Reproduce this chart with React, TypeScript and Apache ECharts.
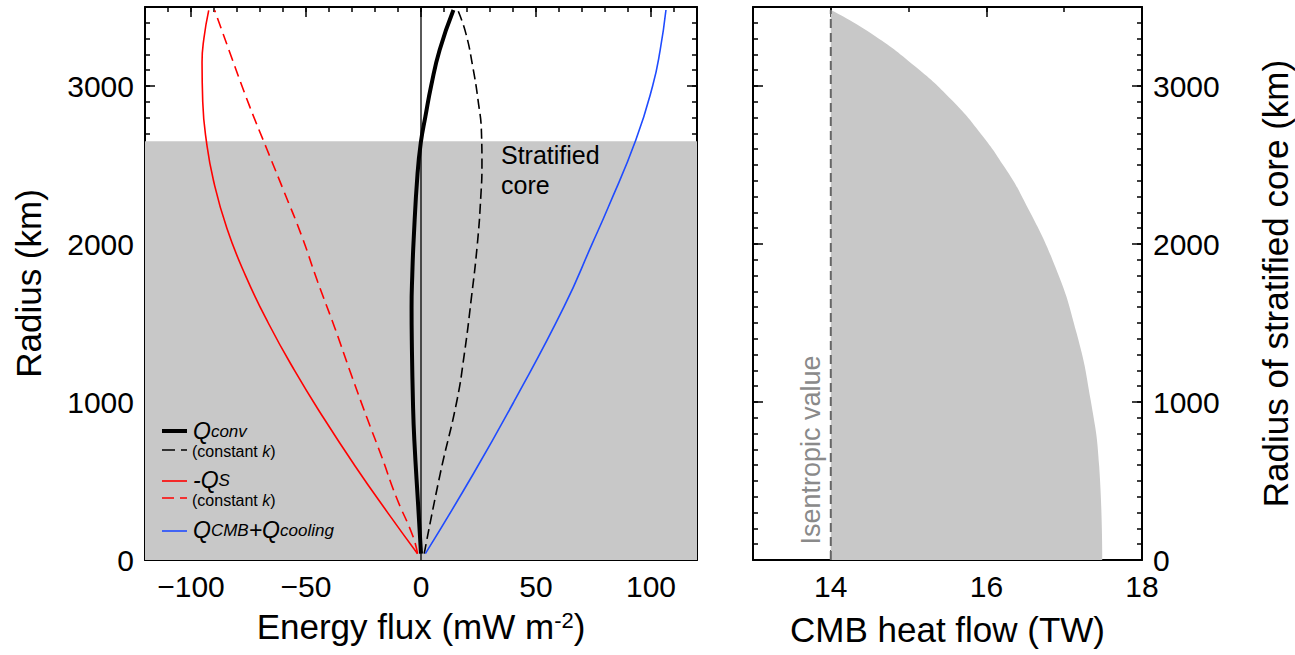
import React, { useEffect, useRef } from 'react';
import * as echarts from 'echarts';

const FONT = '"Liberation Sans", Arial, Helvetica, sans-serif';

// ---- Left panel: energy flux (mW m-2) versus radius (km) ----
const qconvR = [40, 337, 759, 1002, 1392, 1600, 1800, 2025, 2447, 2650, 2806, 3000, 3228, 3481];
const qconvX = [0, -1.2, -2.9, -3.5, -4.0, -4.1, -3.8, -3.2, -1.5, 0, 1.9, 4.4, 8.1, 14.1];

const qconvKR = [40, 549, 1000, 1300, 1646, 2000, 2300, 2500, 2700, 2911, 3122, 3333, 3481];
const qconvKX = [1.4, 8.4, 15.5, 18.8, 21.8, 24.5, 26.0, 26.5, 26.3, 24.8, 22.5, 19.5, 16.0];

const qsR = [40, 300, 600, 900, 1200, 1500, 1800, 2100, 2400, 2650, 2900, 3150, 3300, 3479];
const qsX = [-1.5, -14.5, -28.9, -42.4, -55.0, -66.4, -76.3, -84.4, -90.2, -93.3, -94.9, -95.2, -94.4, -92.3];

const qsKR = [40, 150, 400, 650, 900, 1180, 1470, 1764, 2056, 2330, 2600, 2871, 3187, 3479];
const qsKX = [-1.5, -3.5, -10.8, -17, -23.5, -30.5, -37.5, -45, -52, -59.5, -67, -74.5, -82.5, -89.7];

const qcmbR = [40, 549, 1002, 1603, 2004, 2236, 2658, 3000, 3228, 3481];
const qcmbX = [1.9, 22.9, 40.4, 62.2, 74.5, 81.5, 93.4, 100.7, 104.0, 106.5];

const stratTop = 2650;
const fluxMajor = [-100, -50, 0, 50, 100];
const radiusMajor = [0, 1000, 2000, 3000];

// ---- Right panel: CMB heat flow (TW) versus radius of stratified core (km) ----
const hfR = [0, 591, 1013, 1435, 1856, 2278, 2489, 2700, 2911, 3122, 3333, 3481];
const hfX = [17.49, 17.45, 17.34, 17.16, 16.885, 16.48, 16.23, 15.925, 15.555, 15.09, 14.52, 14.0];
const isentropic = 14;
const isentropicTop = 3481;
const heatMajor = [14, 16, 18];

const zip = (xs: number[], ys: number[]) => xs.map((x, i) => [x, ys[i]]);
const fmt = (v: number) => (v < 0 ? '\u2212' + Math.abs(v) : String(v));

const lineAxis = { show: true, onZero: false, lineStyle: { color: '#000', width: 2 } };
const noLine = { show: false, onZero: false };

function majorAxis(opts: any) {
  const { gridIndex, position, min, max, values, labels, ...rest } = opts;
  return {
    type: 'value', gridIndex, position, min, max,
    axisLine: lineAxis,
    splitLine: { show: false },
    axisTick: { show: true, inside: true, length: 10, customValues: values, lineStyle: { color: '#000', width: 1.5 } },
    axisLabel: labels
      ? { show: true, customValues: values, fontSize: 30, color: '#000', fontFamily: FONT, margin: 11, formatter: fmt }
      : { show: false },
    ...rest,
  };
}
function minorAxis(gridIndex: number, position: string, min: number, max: number, interval: number) {
  return {
    type: 'value', gridIndex, position, min, max, interval,
    axisLine: noLine,
    splitLine: { show: false },
    axisTick: { show: true, inside: true, length: 5, lineStyle: { color: '#000', width: 1.5 } },
    axisLabel: { show: false },
  };
}

const legendRich = {
  q: { fontSize: 23, fontStyle: 'italic', fontFamily: FONT, fill: '#000', lineHeight: 18 },
  s: { fontSize: 17, fontStyle: 'italic', fontFamily: FONT, fill: '#000', verticalAlign: 'bottom', lineHeight: 18 },
};
const smallRich = {
  t: { fontSize: 16, fontFamily: FONT, fill: '#000', lineHeight: 16 },
  k: { fontSize: 16, fontStyle: 'italic', fontFamily: FONT, fill: '#000', lineHeight: 16 },
};

export default function App() {
  const ref = useRef<HTMLDivElement>(null);
  useEffect(() => {
    if (!ref.current) return;
    const chart = echarts.init(ref.current, null, { renderer: 'svg' });
    const titleStyle = { fontSize: 35, color: '#000', fontFamily: FONT };
    const curve = { type: 'line', xAxisIndex: 0, yAxisIndex: 0, smooth: 0.5, symbol: 'none' };
    const option: any = {
      animation: false,
      backgroundColor: '#fff',
      textStyle: { fontFamily: FONT },
      grid: [
        { left: 145, top: 7, width: 552, height: 553 },
        { left: 753, top: 7, width: 389, height: 553 },
      ],
      xAxis: [
        majorAxis({
          gridIndex: 0, position: 'bottom', min: -120, max: 120, values: fluxMajor, labels: true,
          name: '{t|Energy flux (mW m}{s|-2}{t|)}', nameLocation: 'middle', nameGap: 49,
          nameTextStyle: { ...titleStyle, rich: { t: { fontSize: 35, fontFamily: FONT, color: '#000' }, s: { fontSize: 22, fontFamily: FONT, color: '#000', verticalAlign: 'top' } } },
        }),
        minorAxis(0, 'bottom', -120, 120, 10),
        majorAxis({ gridIndex: 0, position: 'top', min: -120, max: 120, values: fluxMajor, labels: false }),
        minorAxis(0, 'top', -120, 120, 10),
        majorAxis({
          gridIndex: 1, position: 'bottom', min: 13, max: 18, values: heatMajor, labels: true,
          name: 'CMB heat flow (TW)', nameLocation: 'middle', nameGap: 52, nameTextStyle: titleStyle,
        }),
        minorAxis(1, 'bottom', 13, 18, 1),
        majorAxis({ gridIndex: 1, position: 'top', min: 13, max: 18, values: heatMajor, labels: false }),
        minorAxis(1, 'top', 13, 18, 1),
      ],
      yAxis: [
        majorAxis({
          gridIndex: 0, position: 'left', min: 0, max: 3500, values: radiusMajor, labels: true,
          name: 'Radius (km)', nameLocation: 'middle', nameGap: 99, nameTextStyle: titleStyle,
        }),
        minorAxis(0, 'left', 0, 3500, 100),
        majorAxis({ gridIndex: 0, position: 'right', min: 0, max: 3500, values: radiusMajor, labels: false }),
        minorAxis(0, 'right', 0, 3500, 100),
        majorAxis({ gridIndex: 1, position: 'left', min: 0, max: 3500, values: radiusMajor, labels: false }),
        minorAxis(1, 'left', 0, 3500, 100),
        majorAxis({
          gridIndex: 1, position: 'right', min: 0, max: 3500, values: radiusMajor, labels: true,
          name: 'Radius of stratified core (km)', nameLocation: 'middle', nameGap: 116, nameRotate: 90, nameTextStyle: titleStyle,
        }),
        minorAxis(1, 'right', 0, 3500, 100),
      ],
      series: [
        {
          name: 'Stratified core', type: 'line', xAxisIndex: 0, yAxisIndex: 0, silent: true, z: 1,
          data: [[-120, stratTop], [120, stratTop]], symbol: 'none',
          lineStyle: { width: 0 }, areaStyle: { color: '#c8c8c8', opacity: 1 },
        },
        {
          name: 'zero', type: 'line', xAxisIndex: 0, yAxisIndex: 0, silent: true, z: 2,
          data: [[0, 0], [0, 3500]], symbol: 'none', lineStyle: { color: '#000', width: 1.3 },
        },
        { ...curve, name: 'Qconv (constant k)', z: 3, data: zip(qconvKX, qconvKR), lineStyle: { color: '#000', width: 1.6, type: [10, 5] } },
        { ...curve, name: '-QS (constant k)', z: 3, data: zip(qsKX, qsKR), lineStyle: { color: '#ff0000', width: 1.6, type: [11, 6] } },
        { ...curve, name: '-QS', z: 3, data: zip(qsX, qsR), lineStyle: { color: '#ff0000', width: 1.6 } },
        { ...curve, name: 'QCMB+Qcooling', z: 3, data: zip(qcmbX, qcmbR), lineStyle: { color: '#1f4bff', width: 1.6 } },
        { ...curve, name: 'Qconv', z: 4, data: zip(qconvX, qconvR), lineStyle: { color: '#000', width: 4 } },
        {
          name: 'Stratified radius', type: 'line', xAxisIndex: 4, yAxisIndex: 4, z: 1, smooth: 0.5, silent: true,
          data: zip(hfX, hfR), symbol: 'none', lineStyle: { width: 0 },
          areaStyle: { color: '#c8c8c8', opacity: 1 },
        },
        {
          name: 'Isentropic value', type: 'line', xAxisIndex: 4, yAxisIndex: 4, z: 3, silent: true,
          data: [[isentropic, 0], [isentropic, isentropicTop]], symbol: 'none',
          lineStyle: { color: '#666', width: 2, type: [9, 5] },
        },
      ],
      graphic: [
        // legend samples
        { type: 'line', z: 100, shape: { x1: 162, y1: 431, x2: 187, y2: 431 }, style: { stroke: '#000', lineWidth: 4 } },
        { type: 'line', z: 100, shape: { x1: 162, y1: 450, x2: 187, y2: 450 }, style: { stroke: '#000', lineWidth: 1.6, lineDash: [13, 6] } },
        { type: 'line', z: 100, shape: { x1: 162, y1: 481, x2: 187, y2: 481 }, style: { stroke: '#ff0000', lineWidth: 1.6 } },
        { type: 'line', z: 100, shape: { x1: 162, y1: 498, x2: 187, y2: 498 }, style: { stroke: '#ff0000', lineWidth: 1.6, lineDash: [12, 6] } },
        { type: 'line', z: 100, shape: { x1: 162, y1: 531, x2: 187, y2: 531 }, style: { stroke: '#1f4bff', lineWidth: 1.6 } },
        {
          type: 'text', z: 100, x: 193, y: 431,
          style: { text: '{q|Q}{s|conv}', verticalAlign: 'middle', fill: '#000', rich: legendRich },
        },
        {
          type: 'text', z: 100, x: 192, y: 451,
          style: { text: '{t|(constant }{k|k}{t|)}', verticalAlign: 'middle', fill: '#000', rich: smallRich },
        },
        {
          type: 'text', z: 100, x: 193, y: 480,
          style: { text: '{q|-Q}{s|S}', verticalAlign: 'middle', fill: '#000', rich: legendRich },
        },
        {
          type: 'text', z: 100, x: 192, y: 500,
          style: { text: '{t|(constant }{k|k}{t|)}', verticalAlign: 'middle', fill: '#000', rich: smallRich },
        },
        {
          type: 'text', z: 100, x: 193, y: 530,
          style: { text: '{q|Q}{s|CMB}{q|+Q}{s|cooling}', verticalAlign: 'middle', fill: '#000', rich: legendRich },
        },
        {
          type: 'text', z: 100, x: 501, y: 140,
          style: { text: 'Stratified\ncore', font: '25px ' + FONT, fill: '#000', lineHeight: 30, verticalAlign: 'top' },
        },
        {
          type: 'text', z: 100, x: 811, y: 450, rotation: Math.PI / 2,
          style: { text: 'Isentropic value', font: '27px ' + FONT, fill: '#8a8a8a', align: 'center', verticalAlign: 'middle' },
        },
      ],
    };
    chart.setOption(option);
    return () => chart.dispose();
  }, []);
  return <div ref={ref} style={{ position: 'absolute', left: 0, top: 0, width: 1295, height: 655 }} />;
}
